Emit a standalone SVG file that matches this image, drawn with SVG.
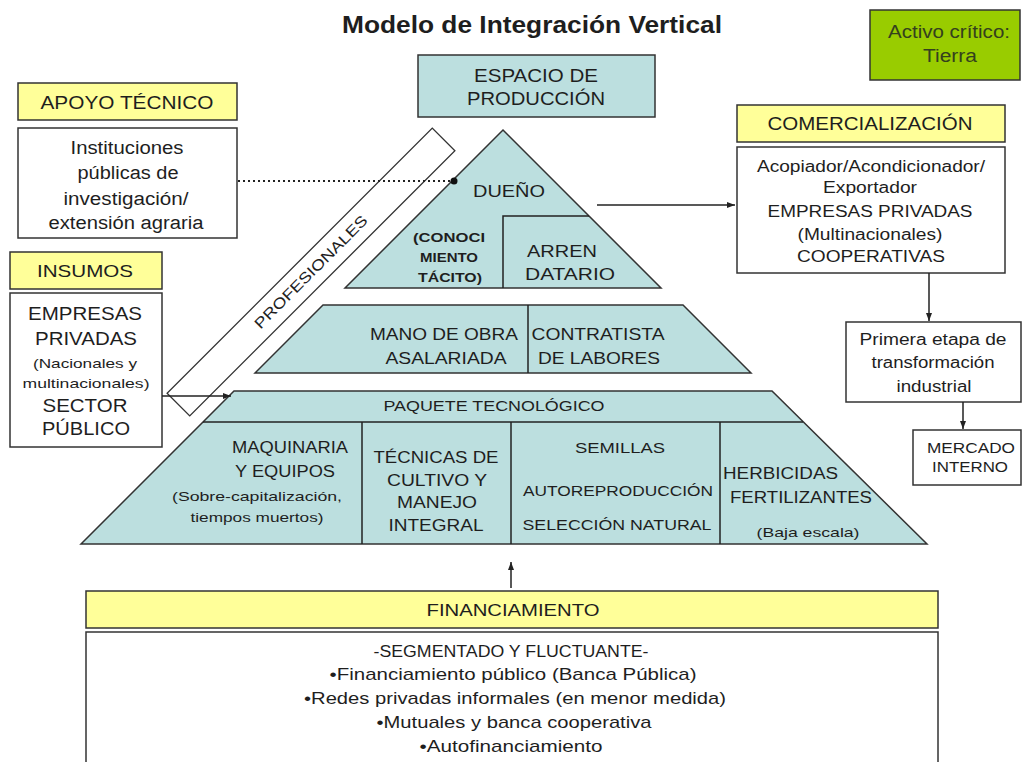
<svg xmlns="http://www.w3.org/2000/svg" width="1023" height="762" viewBox="0 0 1023 762">
<defs>
<style>
text{font-family:"Liberation Sans",Arial,sans-serif;fill:#1e1e1e;text-anchor:middle}
.t18{font-size:18px}.t17{font-size:17px}.t16{font-size:16px}.t15{font-size:15px}.t13{font-size:13px}.t12{font-size:12px}
.b{font-weight:bold}
.st{text-anchor:start}
.box{fill:#fff;stroke:#333;stroke-width:1.5}
.yel{fill:#ffff99;stroke:#333;stroke-width:1.5}
.teal{fill:#bcdfdf;stroke:#333;stroke-width:1.5}
.ln{stroke:#222;stroke-width:1.5;fill:none}
.con{stroke:#222;stroke-width:1.5;fill:none}
</style>
<marker id="arr" viewBox="0 0 8 6" refX="8" refY="3" markerWidth="8" markerHeight="6" markerUnits="userSpaceOnUse" orient="auto">
<path d="M0,0 L8,3 L0,6 z" fill="#222"/>
</marker>
<marker id="dot" viewBox="0 0 8 8" refX="4" refY="4" markerWidth="8" markerHeight="8" markerUnits="userSpaceOnUse" orient="auto">
<circle cx="4" cy="4" r="3.5" fill="#111"/>
</marker>
</defs>
<rect width="1023" height="762" fill="#fff"/>

<g id="title">
<text x="532" y="33" class="b" style="font-size:23px" textLength="380" lengthAdjust="spacingAndGlyphs">Modelo de Integración Vertical</text>
</g>

<g id="activo">
<rect x="870" y="10" width="150" height="70" fill="#99cc00" stroke="#333" stroke-width="1.5"/>
<text x="949" y="38" class="t18" style="fill:#34401e" textLength="122" lengthAdjust="spacingAndGlyphs">Activo crítico:</text>
<text x="950" y="62" class="t18" style="fill:#34401e" textLength="54" lengthAdjust="spacingAndGlyphs">Tierra</text>
</g>

<g id="espacio">
<rect x="418" y="55" width="237" height="62" class="teal"/>
<text x="536" y="82" class="t18" textLength="124" lengthAdjust="spacingAndGlyphs">ESPACIO DE</text>
<text x="536" y="105" class="t18" textLength="138" lengthAdjust="spacingAndGlyphs">PRODUCCIÓN</text>
</g>

<g id="apoyo">
<rect x="18" y="83" width="219" height="37" class="yel"/>
<text x="127" y="109" class="t18" textLength="173" lengthAdjust="spacingAndGlyphs">APOYO TÉCNICO</text>
<rect x="18" y="128" width="219" height="110" class="box"/>
<text x="127" y="154" class="t18" textLength="113" lengthAdjust="spacingAndGlyphs">Instituciones</text>
<text x="128" y="179" class="t18" textLength="101" lengthAdjust="spacingAndGlyphs">públicas de</text>
<text x="126" y="205" class="t18" textLength="125" lengthAdjust="spacingAndGlyphs">investigación/</text>
<text x="126" y="229" class="t18" textLength="155" lengthAdjust="spacingAndGlyphs">extensión agraria</text>
</g>

<g id="insumos">
<rect x="10" y="252" width="152" height="37" class="yel"/>
<text x="85" y="277" class="t17" textLength="96" lengthAdjust="spacingAndGlyphs">INSUMOS</text>
<rect x="10" y="293" width="152" height="154" class="box"/>
<text x="85" y="320" class="t18" textLength="114" lengthAdjust="spacingAndGlyphs">EMPRESAS</text>
<text x="86" y="345" class="t18" textLength="102" lengthAdjust="spacingAndGlyphs">PRIVADAS</text>
<text x="85" y="368" class="t13" textLength="104" lengthAdjust="spacingAndGlyphs">(Nacionales y</text>
<text x="86" y="388" class="t13" textLength="127" lengthAdjust="spacingAndGlyphs">multinacionales)</text>
<text x="85" y="412" class="t18" textLength="85" lengthAdjust="spacingAndGlyphs">SECTOR</text>
<text x="86" y="435" class="t18" textLength="88" lengthAdjust="spacingAndGlyphs">PÚBLICO</text>
</g>

<g id="profesionales" transform="translate(311,272) rotate(-45)">
<rect x="-187.5" y="-16" width="375" height="32" fill="#fff" stroke="#333" stroke-width="1.3"/>
<text x="0" y="5" class="t15" textLength="153" lengthAdjust="spacingAndGlyphs">PROFESIONALES</text>
</g>

<g id="tier1">
<polygon points="503,130 661,288 345,288" class="teal"/>
<polyline points="503,288 503,216 589,216" class="ln"/>
<text x="509" y="197" class="t17" textLength="72" lengthAdjust="spacingAndGlyphs">DUEÑO</text>
<text x="449" y="242" class="t12 b" textLength="72" lengthAdjust="spacingAndGlyphs">(CONOCI</text>
<text x="449" y="262" class="t12 b" textLength="58" lengthAdjust="spacingAndGlyphs">MIENTO</text>
<text x="450" y="282" class="t12 b" textLength="64" lengthAdjust="spacingAndGlyphs">TÁCITO)</text>
<text x="527" y="257" class="t17 st" textLength="70" lengthAdjust="spacingAndGlyphs">ARREN</text>
<text x="525" y="280" class="t17 st" textLength="90" lengthAdjust="spacingAndGlyphs">DATARIO</text>
</g>

<g id="tier2">
<polygon points="323,305 683,305 751,373 255,373" class="teal"/>
<line x1="528" y1="305" x2="528" y2="373" class="ln"/>
<text x="444" y="340" class="t17" textLength="148" lengthAdjust="spacingAndGlyphs">MANO DE OBRA</text>
<text x="446" y="364" class="t17" textLength="121" lengthAdjust="spacingAndGlyphs">ASALARIADA</text>
<text x="598" y="340" class="t17" textLength="133" lengthAdjust="spacingAndGlyphs">CONTRATISTA</text>
<text x="599" y="364" class="t17" textLength="122" lengthAdjust="spacingAndGlyphs">DE LABORES</text>
</g>

<g id="tier3">
<polygon points="234,391 772,391 927,544 81,544" class="teal"/>
<line x1="203" y1="422" x2="803" y2="422" class="ln"/>
<line x1="362" y1="422" x2="362" y2="544" class="ln"/>
<line x1="511" y1="422" x2="511" y2="544" class="ln"/>
<line x1="720" y1="422" x2="720" y2="544" class="ln"/>
<text x="494" y="411" class="t15" textLength="221" lengthAdjust="spacingAndGlyphs">PAQUETE TECNOLÓGICO</text>
<text x="290" y="453" class="t16" textLength="116" lengthAdjust="spacingAndGlyphs">MAQUINARIA</text>
<text x="285" y="477" class="t16" textLength="100" lengthAdjust="spacingAndGlyphs">Y EQUIPOS</text>
<text x="257" y="501" class="t13" textLength="170" lengthAdjust="spacingAndGlyphs">(Sobre-capitalización,</text>
<text x="257" y="522" class="t13" textLength="133" lengthAdjust="spacingAndGlyphs">tiempos muertos)</text>
<text x="436" y="463" class="t16" textLength="125" lengthAdjust="spacingAndGlyphs">TÉCNICAS DE</text>
<text x="437" y="486" class="t16" textLength="100" lengthAdjust="spacingAndGlyphs">CULTIVO Y</text>
<text x="437" y="508" class="t16" textLength="80" lengthAdjust="spacingAndGlyphs">MANEJO</text>
<text x="436" y="531" class="t16" textLength="95" lengthAdjust="spacingAndGlyphs">INTEGRAL</text>
<text x="620" y="453" class="t15" textLength="90" lengthAdjust="spacingAndGlyphs">SEMILLAS</text>
<text x="618" y="496" class="t15" textLength="190" lengthAdjust="spacingAndGlyphs">AUTOREPRODUCCIÓN</text>
<text x="617" y="530" class="t15" textLength="189" lengthAdjust="spacingAndGlyphs">SELECCIÓN NATURAL</text>
<text x="723" y="479" class="t16 st" textLength="115" lengthAdjust="spacingAndGlyphs">HERBICIDAS</text>
<text x="730" y="503" class="t16 st" textLength="142" lengthAdjust="spacingAndGlyphs">FERTILIZANTES</text>
<text x="808" y="537" class="t13" textLength="103" lengthAdjust="spacingAndGlyphs">(Baja escala)</text>
</g>

<g id="comercializacion">
<rect x="737" y="105" width="268" height="37" class="yel"/>
<text x="870" y="130" class="t18" textLength="205" lengthAdjust="spacingAndGlyphs">COMERCIALIZACIÓN</text>
<rect x="737" y="147" width="268" height="126" class="box"/>
<text x="871" y="172" class="t16" textLength="228" lengthAdjust="spacingAndGlyphs">Acopiador/Acondicionador/</text>
<text x="870" y="193" class="t16" textLength="94" lengthAdjust="spacingAndGlyphs">Exportador</text>
<text x="870" y="217" class="t16" textLength="205" lengthAdjust="spacingAndGlyphs">EMPRESAS PRIVADAS</text>
<text x="870" y="240" class="t16" textLength="145" lengthAdjust="spacingAndGlyphs">(Multinacionales)</text>
<text x="871" y="262" class="t16" textLength="148" lengthAdjust="spacingAndGlyphs">COOPERATIVAS</text>
</g>

<g id="primera">
<rect x="846" y="322" width="175" height="80" class="box"/>
<text x="933" y="345" class="t16" textLength="147" lengthAdjust="spacingAndGlyphs">Primera etapa de</text>
<text x="933" y="368" class="t16" textLength="123" lengthAdjust="spacingAndGlyphs">transformación</text>
<text x="934" y="392" class="t16" textLength="75" lengthAdjust="spacingAndGlyphs">industrial</text>
</g>

<g id="mercado">
<rect x="913" y="430" width="108" height="55" class="box"/>
<text x="971" y="453" class="t15" textLength="88" lengthAdjust="spacingAndGlyphs">MERCADO</text>
<text x="970" y="472" class="t15" textLength="76" lengthAdjust="spacingAndGlyphs">INTERNO</text>
</g>

<g id="financiamiento">
<rect x="86" y="591" width="852" height="37" class="yel"/>
<text x="513" y="616" class="t17" textLength="173" lengthAdjust="spacingAndGlyphs">FINANCIAMIENTO</text>
<rect x="86" y="632" width="852" height="140" class="box"/>
<text x="511" y="657" class="t16" textLength="275" lengthAdjust="spacingAndGlyphs">-SEGMENTADO Y FLUCTUANTE-</text>
<text x="513" y="680" class="t17" textLength="367" lengthAdjust="spacingAndGlyphs">•Financiamiento público (Banca Pública)</text>
<text x="515" y="704" class="t17" textLength="422" lengthAdjust="spacingAndGlyphs">•Redes privadas informales (en menor medida)</text>
<text x="514" y="728" class="t17" textLength="275" lengthAdjust="spacingAndGlyphs">•Mutuales y banca cooperativa</text>
<text x="511" y="752" class="t17" textLength="183" lengthAdjust="spacingAndGlyphs">•Autofinanciamiento</text>
</g>

<g id="connectors">
<line x1="238" y1="181" x2="454" y2="181" stroke="#222" stroke-width="2" stroke-dasharray="2,3" marker-end="url(#dot)"/>
<line x1="597" y1="205" x2="735" y2="205" class="con" marker-end="url(#arr)"/>
<line x1="929" y1="273" x2="929" y2="321" class="con" marker-end="url(#arr)"/>
<line x1="963" y1="402" x2="963" y2="429" class="con" marker-end="url(#arr)"/>
<line x1="162" y1="396" x2="231" y2="396" class="con" marker-end="url(#arr)"/>
<line x1="511" y1="588" x2="511" y2="562" class="con" marker-end="url(#arr)"/>
</g>
</svg>
